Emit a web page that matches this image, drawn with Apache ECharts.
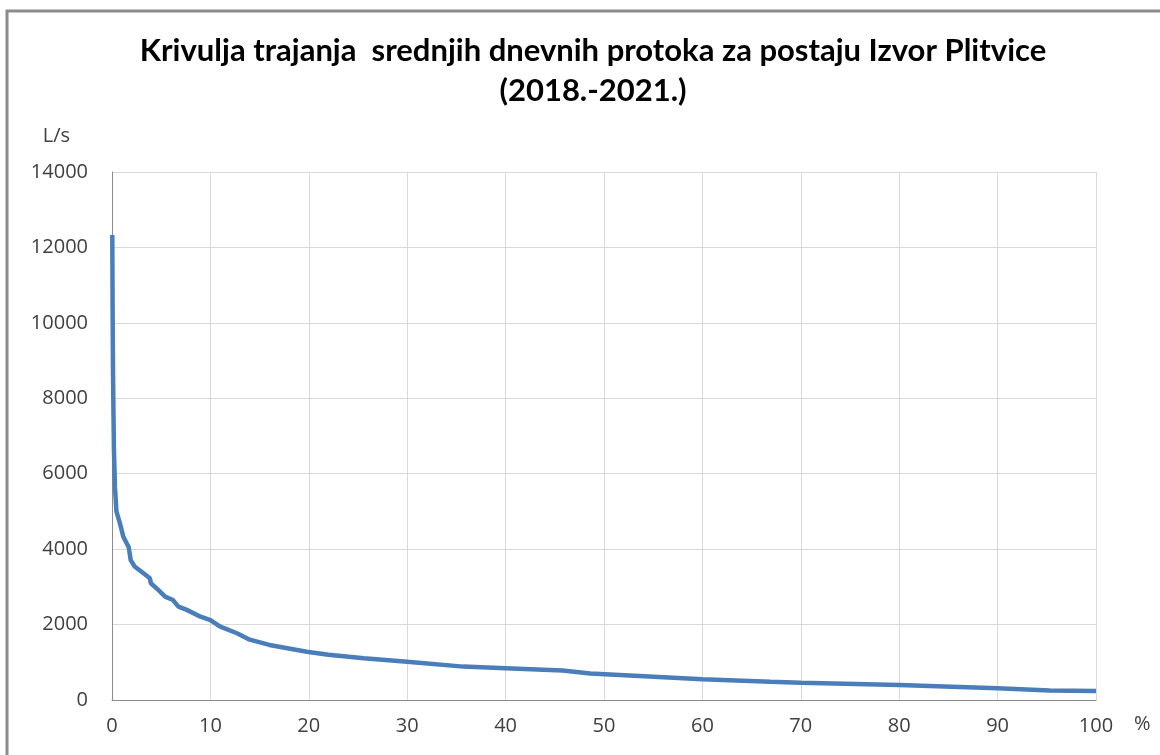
<!DOCTYPE html>
<html>
<head>
<meta charset="utf-8">
<script src="https://cdn.jsdelivr.net/npm/echarts@6/dist/echarts.min.js"></script>
<style>
  html, body { margin: 0; padding: 0; background: #fff; }
  #chart { width: 1160px; height: 755px; }
</style>
</head>
<body>
<div id="chart"></div>
<script>
// duration curve: % of time vs mean daily flow (L/s)
const pctTime = [0.03, 0.06, 0.1, 0.15, 0.2, 0.3, 0.45, 0.8, 1.15, 1.7, 1.9, 2.3, 3.2, 3.85, 3.95,
  4.7, 5.4, 6.2, 6.75, 7.6, 9.0, 10, 11, 12.7, 14, 16, 19.8, 22, 25.6, 30, 35.7, 40, 45.8,
  48.6, 52.6, 60, 66.9, 70, 80, 90, 95.3, 100];
const flowLs = [12330, 10500, 8800, 7600, 6600, 5650, 5000, 4690, 4330, 4050, 3710, 3540, 3360, 3230, 3095,
  2920, 2740, 2650, 2475, 2390, 2210, 2120, 1945, 1770, 1600, 1460, 1280, 1200, 1105, 1016, 885, 840, 780,
  705, 650, 550, 486, 460, 398, 310, 250, 240];

const titleLines = ['Krivulja trajanja  srednjih dnevnih protoka za postaju Izvor Plitvice', '(2018.-2021.)'];

const chart = echarts.init(document.getElementById('chart'));

const labelColor = '#404040';
const fontFam = '"Open Sans", "Noto Sans", sans-serif';

chart.setOption({
    backgroundColor: '#fff',
    animation: false,
    title: {
        text: titleLines.join('\n'),
        left: 588,
        top: 26,
        textAlign: 'center',
        textStyle: {
            fontFamily: 'Lato, sans-serif',
            fontWeight: 'bold',
            fontSize: 31,
            lineHeight: 40,
            color: '#000'
        }
    },
    graphic: [
        {
            type: 'rect',
            shape: { x: 7, y: 11, width: 1200, height: 800 },
            style: { fill: 'none', stroke: '#8c8c8c', lineWidth: 3 },
            silent: true
        }
    ],
    grid: { left: 112, right: 64, top: 172, bottom: 55 },
    xAxis: {
        type: 'value',
        min: 0,
        max: 100,
        interval: 10,
        name: '%',
        nameLocation: 'end',
        nameGap: 38,
        nameTextStyle: {
            color: labelColor, fontFamily: fontFam, fontSize: 20,
            verticalAlign: 'top', padding: [14, 0, 0, 0]
        },
        axisLine: { lineStyle: { color: '#8c8c8c', width: 1 } },
        axisTick: { show: false },
        axisLabel: { color: labelColor, fontFamily: fontFam, fontSize: 20, margin: 16 },
        splitLine: { show: true, lineStyle: { color: '#d9d9d9', width: 1 } }
    },
    yAxis: {
        type: 'value',
        min: 0,
        max: 14000,
        interval: 2000,
        name: 'L/s',
        nameLocation: 'end',
        nameGap: 26,
        nameTextStyle: {
            color: labelColor, fontFamily: fontFam, fontSize: 20,
            align: 'right', padding: [0, 42, 0, 0]
        },
        axisLine: { show: true, lineStyle: { color: '#8c8c8c', width: 1 } },
        axisTick: { show: false },
        axisLabel: {
            color: labelColor, fontFamily: fontFam, fontSize: 20, margin: 24,
            formatter: v => String(v)
        },
        splitLine: { lineStyle: { color: '#d9d9d9', width: 1 } }
    },
    series: [
        {
            type: 'line',
            data: pctTime.map((p, i) => [p, flowLs[i]]),
            showSymbol: false,
            smooth: false,
            lineStyle: { color: '#4a7ebb', width: 4.5 },
            itemStyle: { color: '#4a7ebb' }
        }
    ]
});
</script>
</body>
</html>
